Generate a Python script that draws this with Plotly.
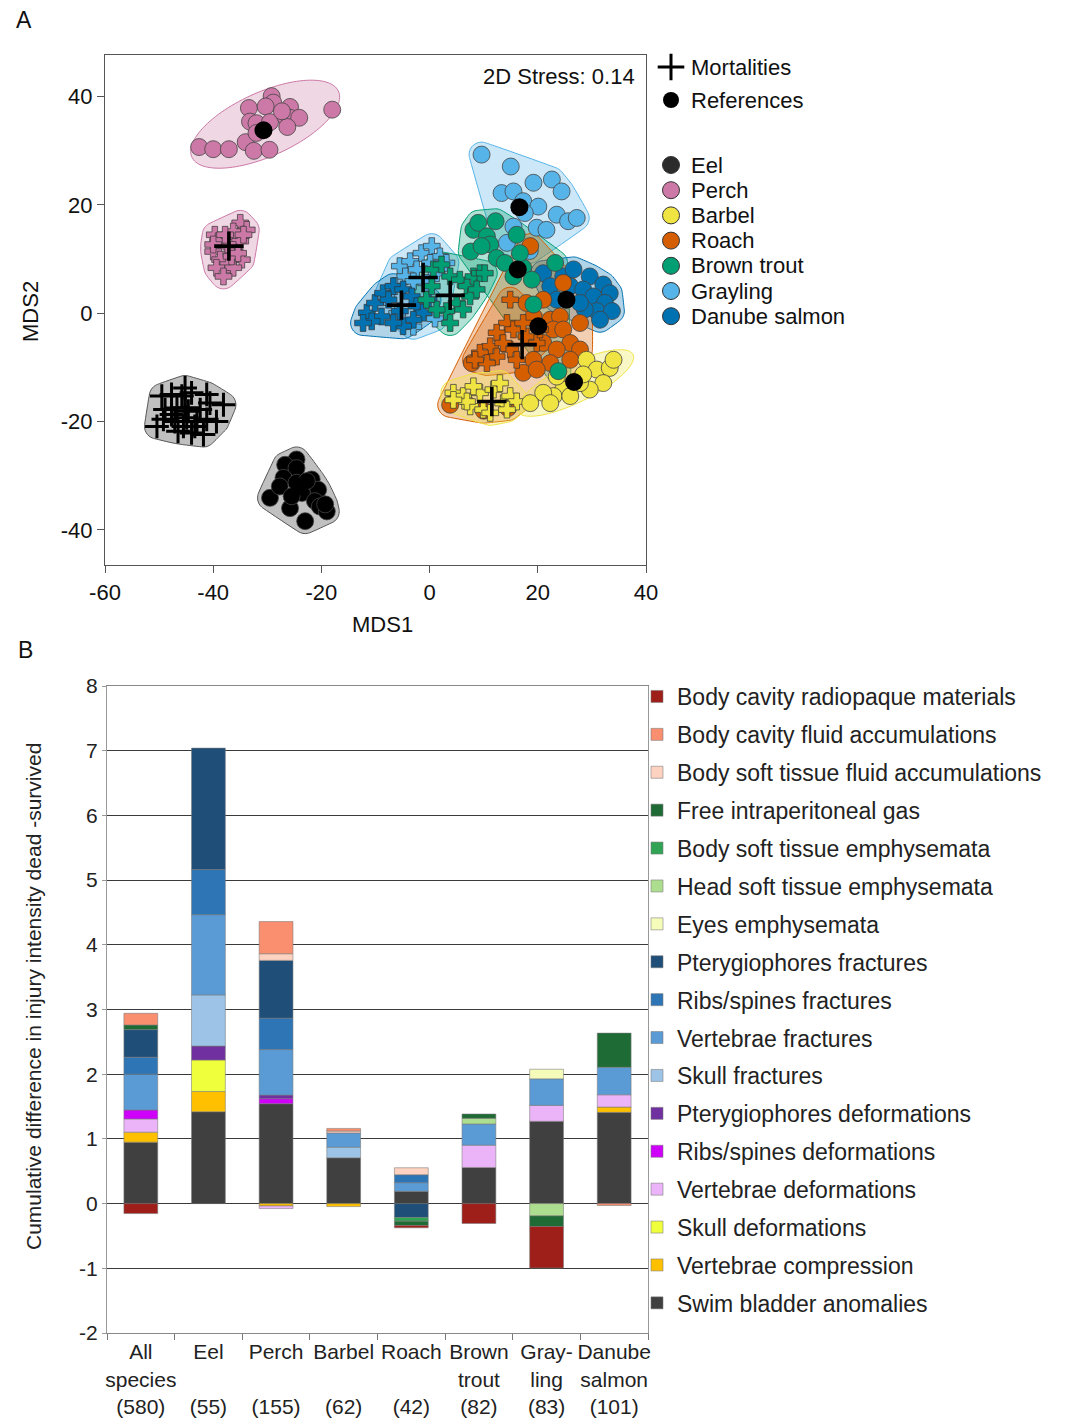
import numpy as np
import plotly.graph_objects as go

W, H = 1069, 1418
FONT = "Liberation Sans, Arial, Helvetica, sans-serif"

# ---------------------------------------------------------------
# Panel A: NMDS ordination scores (MDS1, MDS2)
# ---------------------------------------------------------------
species = ["Eel", "Perch", "Barbel", "Roach", "Brown trout", "Grayling", "Danube salmon"]
species_colors = ["#2b2b2b", "#CC79A7", "#F0E442", "#D55E00", "#009E73", "#56B4E9", "#0072B2"]

# reference fish (circles)
eel_ref_x = [-24.6, -26.7, -24.6, -27.0, -24.6, -21.8, -20.6, -29.5, -27.7, -23.6, -21.2, -20.3,
             -25.8, -23.0, -19.0, -19.3, -22.7, -25.5]
eel_ref_y = [-27.0, -28.0, -28.6, -30.4, -31.3, -30.7, -32.6, -34.1, -32.0, -33.2, -34.7, -35.7,
             -36.0, -38.4, -36.6, -35.3, -31.0, -33.8]
perch_ref_x = [-42.6, -40.0, -37.1, -34.0, -32.5, -29.6, -33.4, -29.2, -28.9, -30.3, -25.8, -33.2,
               -32.0, -29.5, -26.7, -25.8, -24.1, -26.3, -32.0, -18.0, -27.3]
perch_ref_y = [30.7, 30.3, 30.3, 31.6, 30.0, 30.2, 37.9, 40.1, 38.9, 38.2, 38.1, 35.4,
               35.1, 35.3, 36.4, 36.1, 36.1, 34.4, 33.3, 37.6, 37.3]
barbel_ref_x = [29.0, 30.9, 33.3, 34.0, 32.1, 29.6, 27.8, 24.7, 22.9, 21.0, 23.5, 26.0, 18.6, 22.3, 28.4]
barbel_ref_y = [-8.6, -10.4, -10.1, -8.6, -12.9, -14.1, -12.9, -14.1, -15.3, -14.7, -11.7, -15.3,
                -16.6, -16.6, -11.3]
roach_ref_x = [18.6, 24.7, 21.0, 19.2, 22.3, 24.1, 22.9, 24.7, 26.0, 21.0, 23.5, 27.8, 19.2, 22.3,
               26.0, 17.3, 19.8, 7.8, 3.8, 27.8, 17.9, 10.0, 14.5]
roach_ref_y = [12.4, 5.6, 2.5, -0.6, -1.2, -0.6, -3.0, -3.0, -5.5, -5.5, -6.7, -6.7, -8.6, -9.2,
               -8.6, -11.0, -10.4, -9.2, -16.9, -1.8, 1.9, -18.0, -17.5]
trout_ref_x = [8.1, 9.0, 12.2, 10.6, 11.2, 16.1, 7.6, 12.4, 13.9, 15.5, 17.3, 18.9, 16.7, 23.2,
               19.2, 23.8, 9.6]
trout_ref_y = [15.4, 16.7, 17.0, 14.2, 12.7, 14.5, 11.4, 10.2, 9.3, 6.8, 8.4, 6.2, 11.1, 9.3,
               1.6, -10.7, 12.4]
grayling_ref_x = [9.6, 15.0, 19.2, 22.6, 24.4, 13.3, 15.5, 17.3, 20.1, 17.6, 23.5, 25.6, 27.2,
                  19.8, 21.6, 14.3, 15.5, 18.5]
grayling_ref_y = [29.3, 27.1, 24.1, 24.7, 22.5, 22.2, 22.5, 20.7, 19.7, 18.5, 18.2, 17.0, 17.6,
                  15.8, 15.4, 13.0, 16.0, 11.5]
danube_ref_x = [21.0, 22.3, 24.7, 26.0, 29.6, 28.4, 32.1, 33.3, 30.3, 32.4, 30.9, 28.7, 33.7,
                31.5, 27.8, 23.5, 26.6]
danube_ref_y = [7.4, 5.0, 6.8, 5.0, 6.8, 4.4, 5.3, 3.7, 3.1, 1.9, 0.4, 0.7, 0.4, -1.2, 1.9, 2.5, 8.1]

# mortalities (crosses)
eel_mort_x = [-49.5, -47.7, -45.2, -45.8, -44.0, -41.2, -40.6, -38.1, -48.9, -46.7, -44.6, -42.4,
              -49.2, -47.1, -44.9, -43.0, -41.2, -39.4, -50.4, -46.5, -44.0, -41.8, -47.7, -45.5, -43.4]
eel_mort_y = [-15.3, -15.0, -13.8, -15.3, -14.7, -15.0, -16.6, -16.9, -17.8, -17.5, -18.1, -17.8,
              -19.6, -20.0, -19.3, -20.0, -19.6, -20.0, -20.9, -21.8, -22.1, -22.4, -18.7, -20.9, -20.9]
perch_mort_x = [-35.0, -33.8, -36.3, -39.7, -39.1, -35.0, -37.5, -40.0, -36.3, -34.7, -38.7, -37.2,
                -39.4, -36.3, -38.1, -34.4, -36.6, -40.0, -35.4, -37.8]
perch_mort_y = [16.7, 15.4, 15.1, 14.5, 13.3, 13.3, 12.4, 11.4, 11.7, 9.9, 9.9, 9.0,
                8.4, 8.4, 6.8, 14.5, 10.5, 12.7, 11.1, 14.5]
barbel_mort_x = [4.4, 6.2, 7.5, 9.3, 9.9, 11.8, 13.0, 13.6, 14.9, 16.1, 8.1, 11.2, 6.9, 14.3, 4.4]
barbel_mort_y = [-14.7, -15.3, -17.2, -14.7, -17.8, -14.1, -12.9, -16.6, -15.3, -16.3, -13.5,
                 -18.4, -16.3, -17.8, -16.0]
roach_mort_x = [14.9, 14.3, 12.4, 15.5, 11.2, 9.3, 12.4, 14.9, 17.9, 19.8, 20.4, 16.1, 10.6, 13.6, 8.4, 17.3]
roach_mort_y = [2.5, -1.8, -3.6, -3.0, -6.1, -7.3, -8.0, -6.7, -4.3, -5.5, -3.0, -8.6, -9.2, -5.5, -8.6, -1.8]
trout_mort_x = [0.7, 2.2, 3.8, 5.6, 6.9, 8.1, 9.3, 7.5, 5.0, 3.1, 1.3, -0.6, 0.4, 6.2, 3.8, 8.7, 10.2]
trout_mort_y = [8.1, 9.0, 6.8, 6.2, 5.0, 6.8, 7.4, 3.1, 1.9, 0.4, 0.7, 2.5, 5.0, 0.7, -1.8, 4.4, 7.4]
grayling_mort_x = [-5.5, -3.6, -1.5, 0.4, 1.9, 0.1, -2.4, -4.5, 1.3, 3.1, -0.6, -6.4, -3.0,
                   -6.0, -3.0, 1.0, -8.0]
grayling_mort_y = [8.7, 9.6, 11.1, 12.4, 10.5, 9.3, 8.1, 6.8, 7.4, 9.3, 5.6, 5.0, 5.9,
                   0.0, -2.5, -1.0, 3.0]
danube_mort_x = [-11.6, -10.1, -8.6, -6.7, -4.9, -3.3, -2.4, -1.2, -3.0, -4.9, -6.7, -8.9, -10.7,
                 -7.6, -5.5, -0.2, -12.3]
danube_mort_y = [0.1, 1.9, 3.7, 5.0, 4.4, 3.1, 1.3, 0.1, -1.2, -2.4, -1.8, -0.6, -1.5, 2.5, 0.4, 2.5, -1.8]

# group centroids (species order)
ref_centroid_x = [-24.0, -30.7, 26.7, 20.1, 16.3, 16.6, 25.3]
ref_centroid_y = [-32.0, 33.8, -12.7, -2.4, 8.1, 19.6, 2.5]
mort_centroid_x = [-45.2, -37.1, 11.5, 17.1, 3.8, -1.2, -5.2]
mort_centroid_y = [-17.5, 12.4, -16.3, -5.8, 3.3, 6.6, 1.5]

stress_text = "2D Stress: 0.14"
mds_x_ticks = [-60, -40, -20, 0, 20, 40]
mds_y_ticks = [-40, -20, 0, 20, 40]

# ---------------------------------------------------------------
# Panel B: cumulative injury-intensity differences (dead - survived)
# ---------------------------------------------------------------
groups = ["All species", "Eel", "Perch", "Barbel", "Roach", "Brown trout", "Grayling", "Danube salmon"]
group_labels = ["All<br>species", "Eel<br> ", "Perch<br> ", "Barbel<br> ", "Roach<br> ",
                "Brown<br>trout", "Gray-<br>ling", "Danube<br>salmon"]
group_n = [580, 55, 155, 62, 42, 82, 83, 101]
diff_ticks = list(range(-2, 9))

# stacking order, bottom to top
injuries = [
    "Swim bladder anomalies", "Vertebrae compression", "Skull deformations",
    "Vertebrae deformations", "Ribs/spines deformations", "Pterygiophores deformations",
    "Skull fractures", "Vertebrae fractures", "Ribs/spines fractures", "Pterygiophores fractures",
    "Eyes emphysemata", "Head soft tissue emphysemata", "Body soft tissue emphysemata",
    "Free intraperitoneal gas", "Body soft tissue fluid accumulations",
    "Body cavity fluid accumulations", "Body cavity radiopaque materials",
]
injury_colors = [
    "#404040", "#FFC000", "#F0FF3C", "#ECB4F8", "#CF00FA", "#7030A0",
    "#9DC3E6", "#5B9BD5", "#2E75B6", "#1F4E79",
    "#F5FBB8", "#ADDD8E", "#31A354", "#1F6B35", "#FDD2C0", "#F98F6F", "#9E1F1A",
]
swim_bladder = [0.95, 1.42, 1.544, 0.708, 0.19, 0.559, 1.272, 1.41]
vert_compression = [0.154, 0.313, -0.036, -0.046, 0, 0, 0, 0.082]
skull_deformations = [0, 0.487, 0, 0, 0, 0, 0, 0]
vert_deformations = [0.205, 0, -0.041, 0, 0, 0.344, 0.246, 0.19]
ribs_deformations = [0.138, 0, 0.077, 0, 0, 0, 0, 0]
ptery_deformations = [0, 0.215, 0.056, 0, 0, 0, 0, 0]
skull_fractures = [0, 0.79, 0, 0.164, 0, 0, 0, 0]
vert_fractures = [0.554, 1.241, 0.703, 0.22, 0.133, 0.328, 0.41, 0.426]
ribs_fractures = [0.262, 0.697, 0.487, 0, 0.123, 0, 0, 0]
ptery_fractures = [0.426, 1.877, 0.892, 0, -0.215, 0, 0, 0]
eyes_emphysemata = [0, 0, 0, 0, 0, 0, 0.149, 0]
head_emphysemata = [0, 0, 0, 0, 0, 0.087, -0.19, 0]
body_emphysemata = [0, 0, 0, 0, -0.056, 0, 0, 0]
free_gas = [0.072, 0, 0, 0, -0.067, 0.067, -0.164, 0.527]
body_soft_fluid = [0, 0, 0.103, 0.03, 0.108, 0, 0, 0]
body_cavity_fluid = [0.18, 0, 0.497, 0.04, 0, 0, 0, -0.03]
radiopaque = [-0.154, 0, 0, 0, -0.036, -0.308, -0.641, 0]

injury_values = [swim_bladder, vert_compression, skull_deformations, vert_deformations,
                 ribs_deformations, ptery_deformations, skull_fractures, vert_fractures,
                 ribs_fractures, ptery_fractures, eyes_emphysemata, head_emphysemata,
                 body_emphysemata, free_gas, body_soft_fluid, body_cavity_fluid, radiopaque]


# ---------------------------------------------------------------
# helpers
# ---------------------------------------------------------------
def rgba(hex_color, a):
    h = hex_color.lstrip("#")
    return f"rgba({int(h[0:2], 16)},{int(h[2:4], 16)},{int(h[4:6], 16)},{a})"


def convex_hull(points):
    pts = sorted(set(points))
    if len(pts) < 3:
        return pts

    def cross(o, a, b):
        return (a[0] - o[0]) * (b[1] - o[1]) - (a[1] - o[1]) * (b[0] - o[0])

    lower, upper = [], []
    for p in pts:
        while len(lower) >= 2 and cross(lower[-2], lower[-1], p) <= 0:
            lower.pop()
        lower.append(p)
    for p in reversed(pts):
        while len(upper) >= 2 and cross(upper[-2], upper[-1], p) <= 0:
            upper.pop()
        upper.append(p)
    return lower[:-1] + upper[:-1]


def rounded_hull(xs, ys, pad):
    """Convex hull of the group buffered by `pad` units (rounded corners)."""
    ang = np.linspace(0, 2 * np.pi, 36, endpoint=False)
    pts = [(round(x + pad * np.cos(a), 4), round(y + pad * np.sin(a), 4))
           for x, y in zip(xs, ys) for a in ang]
    h = convex_hull(pts)
    h.append(h[0])
    return [p[0] for p in h], [p[1] for p in h]


def cov_ellipse(xs, ys, k):
    x, y = np.asarray(xs), np.asarray(ys)
    vals, vecs = np.linalg.eigh(np.cov(x, y))
    t = np.linspace(0, 2 * np.pi, 120)
    circ = np.vstack([np.cos(t), np.sin(t)]) * (k * np.sqrt(vals))[:, None]
    pts = vecs @ circ
    return x.mean() + pts[0], y.mean() + pts[1]


def tick_text(vals):
    # plain hyphen-minus for negative tick labels
    return [str(v) for v in vals]


fig = go.Figure()

# ---------------------------------------------------------------
# Panel A traces
# ---------------------------------------------------------------
col = dict(zip(species, species_colors))
ref_sets = {
    "Eel": (eel_ref_x, eel_ref_y), "Perch": (perch_ref_x, perch_ref_y),
    "Barbel": (barbel_ref_x, barbel_ref_y), "Roach": (roach_ref_x, roach_ref_y),
    "Brown trout": (trout_ref_x, trout_ref_y), "Grayling": (grayling_ref_x, grayling_ref_y),
    "Danube salmon": (danube_ref_x, danube_ref_y),
}
mort_sets = {
    "Eel": (eel_mort_x, eel_mort_y), "Perch": (perch_mort_x, perch_mort_y),
    "Barbel": (barbel_mort_x, barbel_mort_y), "Roach": (roach_mort_x, roach_mort_y),
    "Brown trout": (trout_mort_x, trout_mort_y), "Grayling": (grayling_mort_x, grayling_mort_y),
    "Danube salmon": (danube_mort_x, danube_mort_y),
}

# group outlines (drawn underneath the points)
hull_order = [("Eel", "mort"), ("Eel", "ref"), ("Perch", "ref"), ("Perch", "mort"),
              ("Grayling", "ref"), ("Grayling", "mort"), ("Danube salmon", "mort"),
              ("Brown trout", "ref"), ("Brown trout", "mort"), ("Danube salmon", "ref"),
              ("Roach", "ref"), ("Roach", "mort"), ("Barbel", "ref"), ("Barbel", "mort")]
ellipse_groups = {("Perch", "ref"): 2.5, ("Barbel", "ref"): 2.3}
for sp, kind in hull_order:
    xs, ys = (ref_sets if kind == "ref" else mort_sets)[sp]
    if (sp, kind) in ellipse_groups:
        hx, hy = cov_ellipse(xs, ys, ellipse_groups[(sp, kind)])
    else:
        hx, hy = rounded_hull(xs, ys, 2.3)
    if sp == "Eel":
        fill, line = "rgba(150,150,150,0.6)", "#555555"
    else:
        fill, line = rgba(col[sp], 0.3), col[sp]
    fig.add_trace(go.Scatter(x=hx, y=hy, mode="lines", fill="toself", fillcolor=fill,
                             line=dict(color=line, width=1, shape="spline", smoothing=1.0),
                             hoverinfo="skip", showlegend=False, xaxis="x", yaxis="y"))

# points
point_order = [("Perch", "ref"), ("Perch", "mort"), ("Eel", "mort"), ("Eel", "ref"),
               ("Grayling", "ref"), ("Grayling", "mort"), ("Danube salmon", "mort"),
               ("Brown trout", "mort"), ("Danube salmon", "ref"), ("Roach", "ref"),
               ("Roach", "mort"), ("Barbel", "mort"), ("Barbel", "ref"), ("Brown trout", "ref")]
for sp, kind in point_order:
    xs, ys = (ref_sets if kind == "ref" else mort_sets)[sp]
    c = "#000000" if sp == "Eel" else col[sp]
    if kind == "ref":
        marker = dict(symbol="circle", size=17, color=c, line=dict(color="#444444", width=0.8))
    elif sp == "Eel":
        marker = dict(symbol="cross-thin", size=17, line=dict(color="#000000", width=3))
    else:
        marker = dict(symbol="cross", size=14, color=c, line=dict(color="#333333", width=0.7))
    fig.add_trace(go.Scatter(x=xs, y=ys, mode="markers", marker=marker, name=sp,
                             showlegend=False, xaxis="x", yaxis="y"))

# centroids
fig.add_trace(go.Scatter(x=ref_centroid_x, y=ref_centroid_y, mode="markers",
                         marker=dict(symbol="circle", size=18, color="#000000"),
                         showlegend=False, xaxis="x", yaxis="y"))
fig.add_trace(go.Scatter(x=mort_centroid_x, y=mort_centroid_y, mode="markers",
                         marker=dict(symbol="cross-thin", size=21, line=dict(color="#000000", width=3.6)),
                         showlegend=False, xaxis="x", yaxis="y"))

# key for panel A, drawn on a full-page overlay axis measured in pixels
key_x = 671
fig.add_trace(go.Scatter(x=[key_x], y=[67], mode="markers",
                         marker=dict(symbol="cross-thin", size=19, line=dict(color="#000", width=3)),
                         showlegend=False, xaxis="x3", yaxis="y3", cliponaxis=False))
fig.add_trace(go.Scatter(x=[key_x], y=[100], mode="markers",
                         marker=dict(symbol="circle", size=16, color="#000"),
                         showlegend=False, xaxis="x3", yaxis="y3", cliponaxis=False))
key_rows = [165 + 25.2 * i for i in range(len(species))]
fig.add_trace(go.Scatter(x=[key_x] * len(species), y=key_rows, mode="markers",
                         marker=dict(symbol="circle", size=17, color=species_colors,
                                     line=dict(color="#333", width=1)),
                         showlegend=False, xaxis="x3", yaxis="y3", cliponaxis=False))

annotations = []
for txt, yy in [("Mortalities", 67), ("References", 100)] + list(zip(species, key_rows)):
    annotations.append(dict(x=689 / W, y=1 - yy / H, text=txt, xanchor="left", yanchor="middle",
                            font=dict(size=22, color="#111", family=FONT)))

# ---------------------------------------------------------------
# Panel B traces
# ---------------------------------------------------------------
n_inj = len(injuries)
for i, (name, color, vals) in enumerate(zip(injuries, injury_colors, injury_values)):
    fig.add_trace(go.Bar(
        x=groups, y=[v if v != 0 else None for v in vals], name=name, legendgroup=name,
        legendrank=n_inj - i,
        marker=dict(color=color, line=dict(color="rgba(120,120,120,0.55)", width=1)),
        width=0.5, xaxis="x2", yaxis="y2",
    ))

# ---------------------------------------------------------------
# layout
# ---------------------------------------------------------------
A_dom_x = [105 / W, 646 / W]
A_dom_y = [1 - 565 / H, 1 - 55 / H]
B_dom_x = [107 / W, 648 / W]
B_dom_y = [1 - 1333 / H, 1 - 686 / H]

tick_font_A = dict(size=22, color="#111", family=FONT)
tick_font_B = dict(size=21, color="#222", family=FONT)

annotations += [
    dict(x=14 / W, y=1 - 20 / H, text="A", xanchor="left", yanchor="middle",
         font=dict(size=23, color="#111", family=FONT)),
    dict(x=16 / W, y=1 - 650 / H, text="B", xanchor="left", yanchor="middle",
         font=dict(size=23, color="#111", family=FONT)),
    dict(x=382 / W, y=1 - 624 / H, text="MDS1", xanchor="center", yanchor="middle",
         font=dict(size=22, color="#111", family=FONT)),
    dict(x=30 / W, y=1 - 312 / H, text="MDS2", textangle=-90, xanchor="center", yanchor="middle",
         font=dict(size=22, color="#111", family=FONT)),
    dict(x=637 / W, y=1 - 76 / H, text=stress_text, xanchor="right", yanchor="middle",
         font=dict(size=22, color="#111", family=FONT)),
    dict(x=33 / W, y=1 - 997 / H, text="Cumulative difference in injury intensity dead -survived",
         textangle=-90, xanchor="center", yanchor="middle",
         font=dict(size=21, color="#222", family=FONT)),
]
for a in annotations:
    a.setdefault("xref", "paper")
    a.setdefault("yref", "paper")
    a.setdefault("showarrow", False)

fig.update_layout(
    width=W, height=H,
    margin=dict(l=0, r=0, t=0, b=0, autoexpand=False),
    paper_bgcolor="white", plot_bgcolor="rgba(0,0,0,0)",
    font=dict(family=FONT, color="#222"),
    barmode="relative",
    annotations=annotations,
    xaxis=dict(domain=A_dom_x, range=[-60, 40], tickvals=mds_x_ticks, ticktext=tick_text(mds_x_ticks),
               ticks="outside", ticklen=7, tickcolor="#555", showline=True, linecolor="#555",
               linewidth=1.3, mirror=True, showgrid=False, zeroline=False, tickfont=tick_font_A,
               anchor="y"),
    yaxis=dict(domain=A_dom_y, range=[-46.5, 47.7], tickvals=mds_y_ticks, ticktext=tick_text(mds_y_ticks),
               ticks="outside", ticklen=7, tickcolor="#555", showline=True, linecolor="#555",
               linewidth=1.3, mirror=True, showgrid=False, zeroline=False, tickfont=tick_font_A,
               anchor="x"),
    xaxis2=dict(domain=B_dom_x, type="category", tickvals=groups,
                ticktext=[f"{lab}<br>({n})" for lab, n in zip(group_labels, group_n)],
                tickangle=0, tickson="boundaries", ticks="outside", ticklen=6, tickcolor="#777",
                showline=True, linecolor="#888", linewidth=1.3, mirror=True, showgrid=False,
                tickfont=tick_font_B, anchor="y2"),
    yaxis2=dict(domain=B_dom_y, range=[-2, 8], tickvals=diff_ticks, ticktext=tick_text(diff_ticks),
                ticks="outside", ticklen=4, tickcolor="#999", showline=True, linecolor="#999",
                linewidth=1.3, mirror=True, showgrid=True, gridcolor="#3a3a3a", gridwidth=1.4,
                zeroline=True, zerolinecolor="#3a3a3a", zerolinewidth=1.4, tickfont=tick_font_B,
                anchor="x2"),
    xaxis3=dict(domain=[0, 1], range=[0, W], visible=False, fixedrange=True, anchor="y3"),
    yaxis3=dict(domain=[0, 1], range=[H, 0], visible=False, fixedrange=True, anchor="x3"),
    legend=dict(x=637 / W, y=1 - 675 / H, xanchor="left", yanchor="top",
                traceorder="grouped", tracegroupgap=5,
                font=dict(size=23, color="#222", family=FONT),
                bgcolor="rgba(0,0,0,0)", borderwidth=0),
)

fig.write_html("out.html")
